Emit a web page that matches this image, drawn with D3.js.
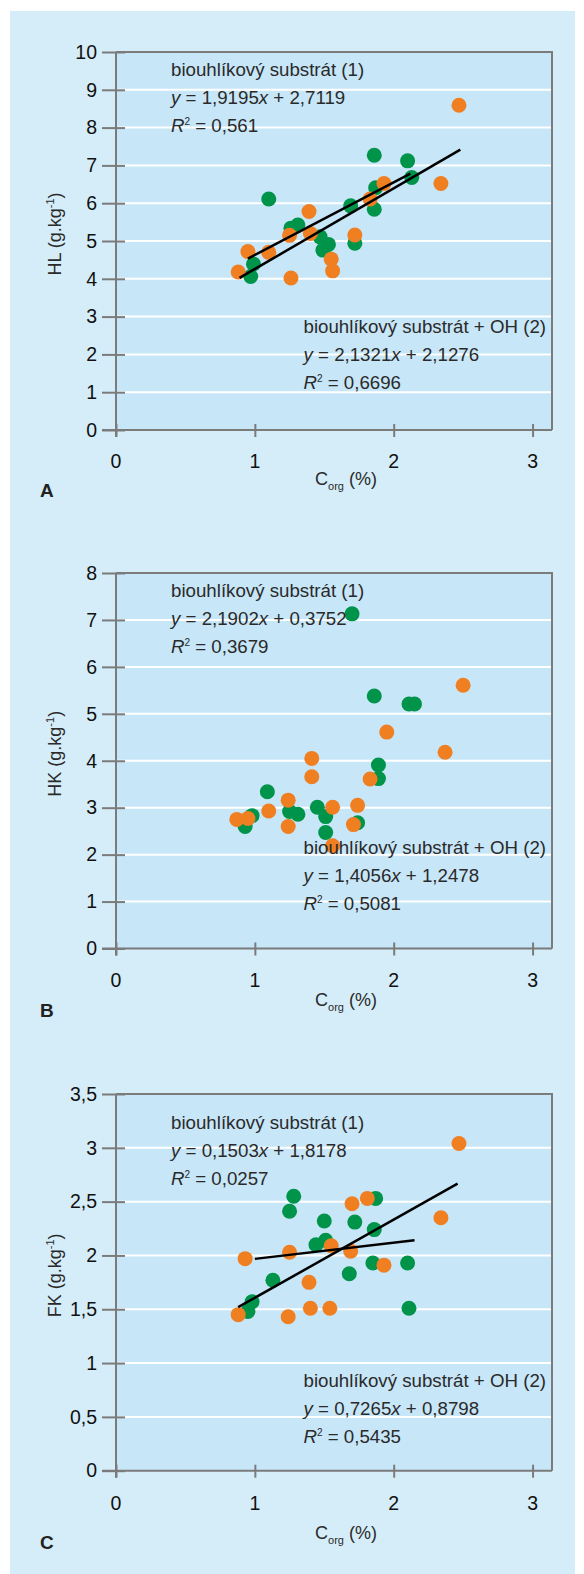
<!DOCTYPE html>
<html>
<head>
<meta charset="utf-8">
<script src="https://cdn.jsdelivr.net/npm/d3@7"></script>
<style>
  html, body { margin: 0; padding: 0; background: #fff; }
  svg { display: block; font-family: "Liberation Sans", Arial, sans-serif; }
</style>
</head>
<body>
<svg id="chart" width="584" height="1574"></svg>
<script>
// values: [Corg %, value g/kg]
// green = biouhlíkový substrát (1), orange = biouhlíkový substrát + OH (2)
const hlGreen = [[1.86,7.27],[2.10,7.12],[2.13,6.68],[1.87,6.41],[1.86,5.84],[1.69,5.93],[1.10,6.11],[1.31,5.42],
  [1.26,5.34],[1.47,5.11],[1.53,4.91],[1.49,4.76],[1.72,4.94],[0.99,4.39],[0.97,4.06]];
const hlOrange = [[2.47,8.59],[2.34,6.52],[1.93,6.52],[1.83,6.11],[1.39,5.78],[1.40,5.20],[1.25,5.15],[1.72,5.16],
  [1.10,4.70],[0.95,4.72],[1.55,4.52],[1.56,4.21],[0.88,4.18],[1.26,4.02]];

const hkGreen = [[1.70,7.13],[1.86,5.38],[2.11,5.21],[2.15,5.21],[1.89,3.91],[1.89,3.62],[1.09,3.34],[1.25,2.92],
  [1.31,2.86],[1.45,3.01],[1.51,2.81],[1.74,2.68],[1.51,2.47],[0.98,2.83],[0.93,2.60]];
const hkOrange = [[2.50,5.61],[1.95,4.61],[2.37,4.18],[1.41,4.05],[1.41,3.66],[1.83,3.61],[1.24,3.16],[1.10,2.93],
  [1.56,3.01],[1.74,3.05],[1.71,2.64],[1.56,2.19],[1.24,2.60],[0.87,2.75],[0.95,2.77]];

const fkGreen = [[1.28,2.55],[1.25,2.41],[1.87,2.53],[1.50,2.32],[1.72,2.31],[1.86,2.24],[1.51,2.14],[1.44,2.10],
  [1.85,1.93],[2.10,1.93],[1.68,1.83],[1.13,1.77],[0.98,1.57],[0.95,1.48],[2.11,1.51]];
const fkOrange = [[2.47,3.04],[2.34,2.35],[1.70,2.48],[1.81,2.53],[1.55,2.09],[1.69,2.04],[1.25,2.03],[0.93,1.97],
  [1.93,1.91],[1.39,1.75],[0.88,1.45],[1.24,1.43],[1.40,1.51],[1.54,1.51]];

// trend lines: [slope, intercept, R2, x from, x to] (null range = not drawn)
const hlFits = [[1.9195, 2.7119, 0.561, 0.95, 2.12], [2.1321, 2.1276, 0.6696, 0.89, 2.48]];
const hkFits = [[2.1902, 0.3752, 0.3679, null, null], [1.4056, 1.2478, 0.5081, null, null]];
const fkFits = [[0.1503, 1.8178, 0.0257, 1.00, 2.15], [0.7265, 0.8798, 0.5435, 0.88, 2.46]];

const xTicks = [0, 1, 2, 3];
const hlTicks = [0, 1, 2, 3, 4, 5, 6, 7, 8, 9, 10];
const hkTicks = [0, 1, 2, 3, 4, 5, 6, 7, 8];
const fkTicks = [0, 0.5, 1, 1.5, 2, 2.5, 3, 3.5];

const seriesNames = ['biouhlíkový substrát (1)', 'biouhlíkový substrát + OH (2)'];

const GREEN = '#00944a';
const ORANGE = '#f07f22';
const AXIS = '#7b7b7b';
const TXT = '#2a2a2a';

const panels = [
  { letter: 'A', yName: 'HL', green: hlGreen, orange: hlOrange, fits: hlFits, ticks: hlTicks,
    top: 52, bottom: 430, t1: 76, t2: 333, tickY: 468, titleY: 485, letterY: 497 },
  { letter: 'B', yName: 'HK', green: hkGreen, orange: hkOrange, fits: hkFits, ticks: hkTicks,
    top: 573, bottom: 948.5, t1: 597, t2: 854, tickY: 987, titleY: 1006, letterY: 1017 },
  { letter: 'C', yName: 'FK', green: fkGreen, orange: fkOrange, fits: fkFits, ticks: fkTicks,
    top: 1094, bottom: 1470.7, t1: 1129, t2: 1387, tickY: 1510, titleY: 1539, letterY: 1549 },
];

const svg = d3.select('#chart');
const fmt = v => String(v).replace('.', ',');

svg.append('rect')
  .attr('x', 10).attr('y', 11).attr('width', 565).attr('height', 1563)
  .attr('fill', '#d5edf8');

function drawPanel(p) {
  const left = 116, right = 552;
  const x = d3.scaleLinear().domain([0, 3.14]).range([left, right]);
  const ymax = d3.max(p.ticks);
  const y = d3.scaleLinear().domain([0, ymax]).range([p.bottom, p.top]);
  const g = svg.append('g');

  g.append('rect')
    .attr('x', left).attr('y', p.top)
    .attr('width', right - left).attr('height', p.bottom - p.top)
    .attr('fill', '#c7e6f8');

  // white gridlines
  g.selectAll('.grid').data(p.ticks.filter(t => t > 0 && t < ymax)).join('line')
    .attr('x1', left).attr('x2', right + 1)
    .attr('y1', d => y(d)).attr('y2', d => y(d))
    .attr('stroke', '#fff').attr('stroke-width', 2);

  // frame
  g.append('path')
    .attr('d', `M${left},${p.top}H${right}V${p.bottom}`)
    .attr('fill', 'none').attr('stroke', AXIS).attr('stroke-width', 2);

  // y axis
  const yAxis = g.append('g').attr('transform', `translate(${left},0)`)
    .call(d3.axisLeft(y).tickValues(p.ticks).tickSize(14).tickPadding(6).tickFormat(fmt));
  yAxis.select('.domain').attr('stroke', AXIS).attr('stroke-width', 2)
    .attr('d', `M0,${p.top}V${p.bottom + 7}`);
  yAxis.selectAll('.tick line').attr('stroke', AXIS).attr('stroke-width', 2).attr('x2', 9).attr('x1', -14);
  yAxis.selectAll('.tick text').attr('fill', '#111').attr('font-size', 19.5)
    .attr('font-family', '"Liberation Sans", Arial, sans-serif').attr('x', -19);

  // x axis
  const xAxis = g.append('g').attr('transform', `translate(0,${p.bottom})`)
    .call(d3.axisBottom(x).tickValues(xTicks).tickSize(7).tickFormat(fmt));
  xAxis.select('.domain').attr('stroke', AXIS).attr('stroke-width', 2)
    .attr('d', `M${left - 14},0H${right}`);
  xAxis.selectAll('.tick line').attr('stroke', AXIS).attr('stroke-width', 2).attr('y1', -6);
  xAxis.selectAll('.tick text').remove();
  g.selectAll('.xlab').data(xTicks).join('text')
    .attr('x', d => x(d)).attr('y', p.tickY)
    .attr('text-anchor', 'middle').attr('font-size', 19.5).attr('fill', '#111')
    .text(fmt);

  // axis titles
  const xt = g.append('text').attr('x', 346).attr('y', p.titleY)
    .attr('text-anchor', 'middle').attr('font-size', 18).attr('fill', TXT);
  xt.append('tspan').text('C');
  xt.append('tspan').attr('font-size', 11).attr('dy', 5).text('org');
  xt.append('tspan').attr('dy', -5).text(' (%)');

  const yt = g.append('text')
    .attr('transform', `translate(61,${(p.top + p.bottom) / 2 - 7}) rotate(-90)`)
    .attr('text-anchor', 'middle').attr('font-size', 18).attr('fill', TXT);
  yt.append('tspan').text(`${p.yName} (g.kg`);
  yt.append('tspan').attr('font-size', 11).attr('dy', -7).text('-1');
  yt.append('tspan').attr('dy', 7).text(')');

  g.append('text').attr('x', 40).attr('y', p.letterY)
    .attr('font-size', 19).attr('font-weight', 'bold').attr('fill', '#222')
    .text(p.letter);

  // points
  g.selectAll('.pg').data(p.green).join('circle')
    .attr('cx', d => x(d[0])).attr('cy', d => y(d[1])).attr('r', 7.5).attr('fill', GREEN);
  g.selectAll('.po').data(p.orange).join('circle')
    .attr('cx', d => x(d[0])).attr('cy', d => y(d[1])).attr('r', 7.5).attr('fill', ORANGE);

  // trend lines
  g.selectAll('.fit').data(p.fits.filter(f => f[3] != null)).join('line')
    .attr('x1', f => x(f[3])).attr('y1', f => y(f[0] * f[3] + f[1]))
    .attr('x2', f => x(f[4])).attr('y2', f => y(f[0] * f[4] + f[1]))
    .attr('stroke', '#000').attr('stroke-width', 2.5);

  // equation labels
  [[171, p.t1], [303.5, p.t2]].forEach(([tx, ty], i) => {
    const f = p.fits[i];
    const lab = g.append('g').attr('font-size', 18.7).attr('fill', TXT);
    lab.append('text').attr('x', tx).attr('y', ty).text(seriesNames[i]);
    const eq = lab.append('text').attr('x', tx).attr('y', ty + 27.8);
    eq.append('tspan').attr('font-style', 'italic').text('y');
    eq.append('tspan').text(` = ${fmt(f[0])}`);
    eq.append('tspan').attr('font-style', 'italic').text('x');
    eq.append('tspan').text(` + ${fmt(f[1])}`);
    const r2 = lab.append('text').attr('x', tx).attr('y', ty + 56);
    r2.append('tspan').attr('font-style', 'italic').text('R');
    r2.append('tspan').attr('font-size', 10).attr('dy', -7).text('2');
    r2.append('tspan').attr('dy', 7).text(` = ${fmt(f[2])}`);
  });
}

panels.forEach(drawPanel);
</script>
</body>
</html>
